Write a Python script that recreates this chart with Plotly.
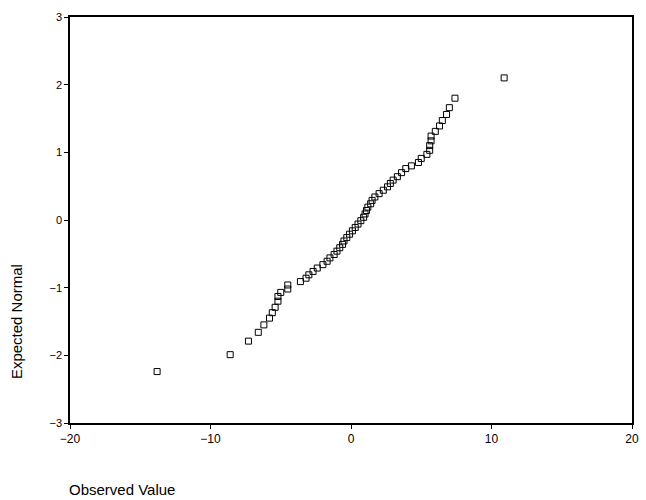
import plotly.graph_objects as go

observed = [-13.8, -8.6, -7.3, -6.6, -6.2, -5.8, -5.6, -5.4, -5.2, -5.2, -5.0, -4.5, -4.5,
            -3.6, -3.2, -3.0, -2.7, -2.4, -2.0, -1.7, -1.5, -1.2, -1.0, -0.8, -0.6, -0.5,
            -0.3, -0.1, 0.1, 0.3, 0.5, 0.7, 0.9, 1.0, 1.1, 1.2, 1.4, 1.5, 1.7, 2.0, 2.3,
            2.6, 2.8, 3.0, 3.3, 3.6, 3.9, 4.3, 4.8, 5.0, 5.4, 5.6, 5.6, 5.7, 5.7, 6.0,
            6.3, 6.5, 6.8, 7.0, 7.4, 10.9]
expected = [-2.24, -1.99, -1.79, -1.66, -1.55, -1.45, -1.37, -1.29, -1.20, -1.13, -1.07,
            -1.02, -0.96, -0.91, -0.86, -0.81, -0.76, -0.71, -0.66, -0.61, -0.56, -0.51,
            -0.46, -0.41, -0.36, -0.31, -0.26, -0.21, -0.16, -0.11, -0.06, -0.01, 0.04,
            0.09, 0.14, 0.19, 0.24, 0.29, 0.34, 0.39, 0.44, 0.49, 0.54, 0.59, 0.64, 0.70,
            0.76, 0.80, 0.85, 0.91, 0.97, 1.03, 1.10, 1.17, 1.24, 1.31, 1.39, 1.47, 1.56,
            1.66, 1.80, 2.10]

x_ticks = [-20, -10, 0, 10, 20]
y_ticks = [-3, -2, -1, 0, 1, 2, 3]

fig = go.Figure()
fig.add_trace(go.Scatter(
    x=observed, y=expected, mode="markers",
    marker=dict(symbol="square-open", size=6, color="black", line=dict(width=1, color="black")),
    showlegend=False, hoverinfo="skip"))

font = "Liberation Sans, Arial, sans-serif"
fig.update_layout(
    width=646, height=500,
    margin=dict(l=70, r=7, t=17, b=77),
    paper_bgcolor="white", plot_bgcolor="white",
    font=dict(family=font, color="black"),
    xaxis=dict(range=[-20, 20], tickvals=x_ticks, ticks="outside", ticklen=4, tickwidth=1,
               tickcolor="black", showline=True, linecolor="black", linewidth=1.5, mirror=True,
               showgrid=False, zeroline=False, tickfont=dict(size=12, family=font)),
    yaxis=dict(range=[-3, 3], tickvals=y_ticks, ticks="outside", ticklen=4, tickwidth=1,
               tickcolor="black", showline=True, linecolor="black", linewidth=1.5, mirror=True,
               showgrid=False, zeroline=False, tickfont=dict(size=11, family=font)),
    annotations=[
        dict(text="Observed Value", xref="paper", yref="paper", x=-0.005, y=-0.165,
             xanchor="left", yanchor="middle", showarrow=False, font=dict(size=15, family=font)),
        dict(text="Expected Normal", xref="paper", yref="paper", x=-0.095, y=0.25,
             xanchor="center", yanchor="middle", textangle=-90, showarrow=False,
             font=dict(size=15, family=font)),
    ],
)

fig.write_html("out.html", config={"displayModeBar": False},
               post_script="document.body.style.margin='0';document.body.style.overflow='hidden';")
